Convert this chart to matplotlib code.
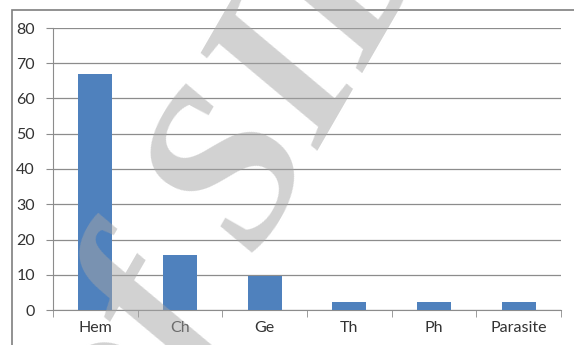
import matplotlib
matplotlib.use('Agg')
import matplotlib.pyplot as plt
import numpy as np

# category counts (%) per group
categories = ['Hem', 'Ch', 'Ge', 'Th', 'Ph', 'Parasite']
values = [67, 15.6, 9.6, 2.4, 2.4, 2.4]
yticks = [0, 10, 20, 30, 40, 50, 60, 70, 80]

plt.rcParams['font.family'] = ['Lato', 'DejaVu Sans']

fig = plt.figure(figsize=(5.74, 3.45), dpi=100)
fig.patch.set_facecolor('white')

# outer chart border (runs off the right and bottom edges)
border = plt.Rectangle((12 / 574, -0.1), 1.1, (345 - 10) / 345 + 0.1,
                       transform=fig.transFigure, fill=False,
                       edgecolor='#7f7f7f', linewidth=1.2)
fig.patches.append(border)

ax = fig.add_axes([53 / 574, (345 - 310) / 345, (561 - 53) / 574, (310 - 28) / 345])
x = np.arange(len(categories))
ax.bar(x, values, width=0.4, color='#4f81bd', zorder=3)

ax.set_xlim(-0.5, len(categories) - 0.5)
ax.set_ylim(0, 80)
ax.set_yticks(yticks)
ax.grid(axis='y', color='#8c8c8c', linewidth=0.9, zorder=0)
ax.set_axisbelow(True)

for s in ['top', 'right']:
    ax.spines[s].set_visible(False)
ax.spines['left'].set_color('#8c8c8c')
ax.spines['bottom'].set_color('#8c8c8c')

ax.tick_params(axis='y', length=5, color='#8c8c8c', labelsize=11.5, labelcolor='#333333', pad=8)
ax.set_xticks(x)
ax.set_xticklabels(categories)
ax.tick_params(axis='x', length=0, labelsize=11.5, labelcolor='#333333', pad=8)
ax.set_xticks(np.arange(len(categories) + 1) - 0.5, minor=True)
ax.tick_params(axis='x', which='minor', length=5, color='#8c8c8c')

# site watermark
fig.text(0.42, 0.50, 'of SID', fontsize=165, family='Liberation Serif', style='italic',
         fontweight='bold', color='#a5a5a5', alpha=0.5, rotation=60,
         ha='center', va='center', zorder=10)

fig.savefig('out.png', dpi=100)
